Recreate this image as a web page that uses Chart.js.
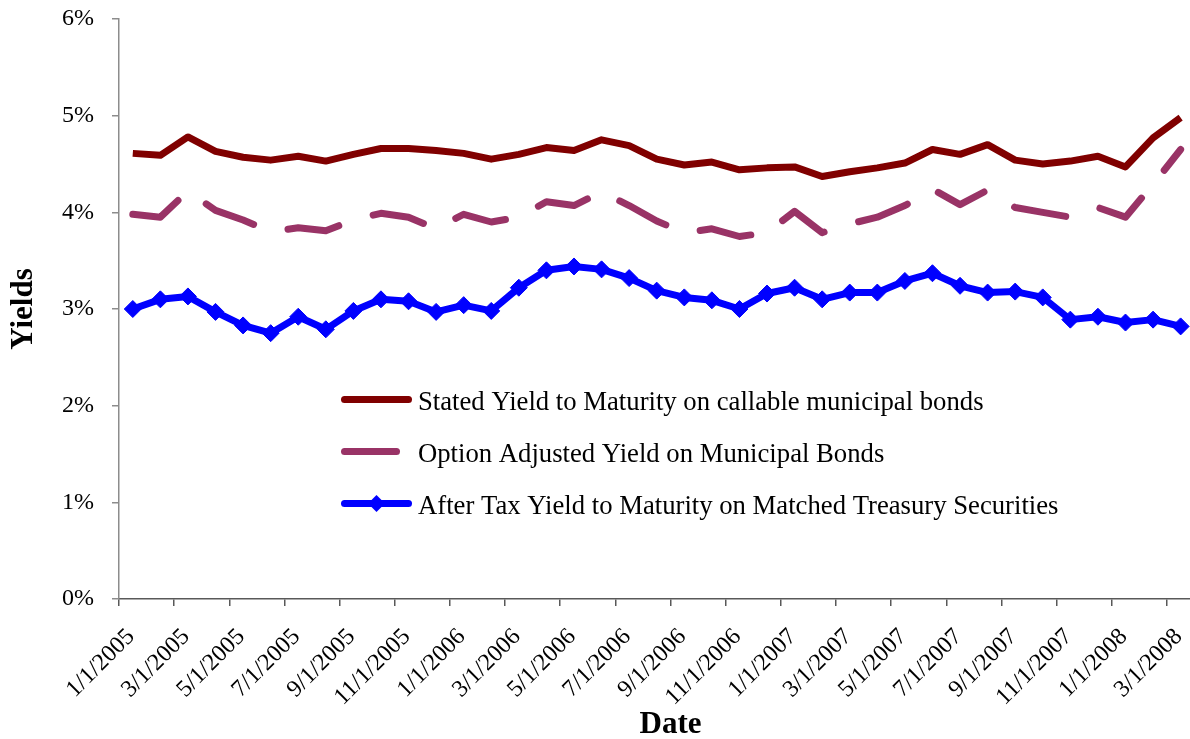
<!DOCTYPE html>
<html lang="en">
<head>
  <meta charset="UTF-8">
  <title>Municipal Bond Yields</title>
  <script src="https://cdn.jsdelivr.net/npm/chart.js"></script>
  <style>
    html, body {
      margin: 0;
      padding: 0;
      overflow: hidden;
      background: #fff;
    }
  </style>
</head>
<body>
  <canvas id="yieldChart" width="1222" height="739"></canvas>

  <script>
    // monthly observations, Jan 2005 - Mar 2008
    const months = [
      '1/1/2005', '2/1/2005', '3/1/2005', '4/1/2005', '5/1/2005', '6/1/2005',
      '7/1/2005', '8/1/2005', '9/1/2005', '10/1/2005', '11/1/2005', '12/1/2005',
      '1/1/2006', '2/1/2006', '3/1/2006', '4/1/2006', '5/1/2006', '6/1/2006',
      '7/1/2006', '8/1/2006', '9/1/2006', '10/1/2006', '11/1/2006', '12/1/2006',
      '1/1/2007', '2/1/2007', '3/1/2007', '4/1/2007', '5/1/2007', '6/1/2007',
      '7/1/2007', '8/1/2007', '9/1/2007', '10/1/2007', '11/1/2007', '12/1/2007',
      '1/1/2008', '2/1/2008', '3/1/2008'
    ];

    const tickLabels = [
      '1/1/2005', '3/1/2005', '5/1/2005', '7/1/2005', '9/1/2005', '11/1/2005',
      '1/1/2006', '3/1/2006', '5/1/2006', '7/1/2006', '9/1/2006', '11/1/2006',
      '1/1/2007', '3/1/2007', '5/1/2007', '7/1/2007', '9/1/2007', '11/1/2007',
      '1/1/2008', '3/1/2008'
    ];

    // yields in percent
    const statedYield = [
      4.61, 4.59, 4.78, 4.63, 4.57, 4.54, 4.58, 4.53, 4.60, 4.66, 4.66, 4.64,
      4.61, 4.55, 4.60, 4.67, 4.64, 4.75, 4.69, 4.55, 4.49, 4.52, 4.44, 4.46,
      4.47, 4.37, 4.42, 4.46, 4.51, 4.65, 4.60, 4.70, 4.54, 4.50, 4.53, 4.58,
      4.47, 4.77, 4.98
    ];

    const optionAdjustedYield = [
      3.98, 3.95, 4.22, 4.02, 3.92, 3.80, 3.84, 3.81, 3.92, 3.99, 3.95, 3.83,
      3.98, 3.90, 3.95, 4.11, 4.07, 4.21, 4.07, 3.91, 3.79, 3.83, 3.75, 3.79,
      4.01, 3.79, 3.88, 3.95, 4.07, 4.24, 4.08, 4.23, 4.05, 4.00, 3.95, 4.05,
      3.95, 4.29, 4.65
    ];

    const afterTaxTreasury = [
      3.00, 3.10, 3.13, 2.97, 2.83, 2.75, 2.92, 2.79, 2.98, 3.10, 3.08, 2.97,
      3.04, 2.98, 3.22, 3.40, 3.44, 3.41, 3.32, 3.19, 3.12, 3.09, 3.00, 3.16,
      3.22, 3.10, 3.17, 3.17, 3.29, 3.37, 3.24, 3.17, 3.18, 3.12, 2.89, 2.92,
      2.86, 2.89, 2.82
    ];

    const serif = "'Liberation Serif', 'Times New Roman', serif";

    const toPoints = arr => arr.map((v, i) => ({ x: i, y: v }));

    // legend drawn inside the plot area
    const insideLegend = {
      id: 'insideLegend',
      afterDatasetsDraw(chart, args, opts) {
        const ctx = chart.ctx;
        ctx.save();
        chart.data.datasets.forEach((ds, i) => {
          const y = opts.top + i * opts.rowGap;
          ctx.beginPath();
          ctx.lineWidth = ds.borderWidth;
          ctx.strokeStyle = ds.borderColor;
          ctx.lineCap = 'round';
          ctx.setLineDash(ds.borderDash || []);
          ctx.moveTo(opts.left, y);
          ctx.lineTo(opts.left + opts.lineLength, y);
          ctx.stroke();
          ctx.setLineDash([]);

          if (ds.pointRadius) {
            const cx = opts.left + opts.lineLength / 2;
            const r = ds.pointRadius;
            ctx.beginPath();
            ctx.moveTo(cx, y - r);
            ctx.lineTo(cx + r, y);
            ctx.lineTo(cx, y + r);
            ctx.lineTo(cx - r, y);
            ctx.closePath();
            ctx.fillStyle = ds.pointBackgroundColor;
            ctx.fill();
          }

          ctx.fillStyle = '#000';
          ctx.font = opts.font;
          ctx.textBaseline = 'alphabetic';
          ctx.fillText(ds.label, opts.textX, y + opts.baselineShift);
        });
        ctx.restore();
      }
    };

    new Chart(document.getElementById('yieldChart'), {
      type: 'line',
      data: {
        datasets: [{
          label: 'Stated Yield to Maturity on callable municipal bonds',
          data: toPoints(statedYield),
          borderColor: '#800000',
          backgroundColor: '#800000',
          borderWidth: 7,
          pointRadius: 0,
          borderJoinStyle: 'round',
          tension: 0
        }, {
          label: 'Option Adjusted Yield on Municipal Bonds',
          data: toPoints(optionAdjustedYield),
          borderColor: '#993366',
          backgroundColor: '#993366',
          borderWidth: 7,
          borderDash: [52, 36],
          borderCapStyle: 'round',
          borderJoinStyle: 'round',
          pointRadius: 0,
          tension: 0
        }, {
          label: 'After Tax Yield to Maturity on Matched Treasury Securities',
          data: toPoints(afterTaxTreasury),
          borderColor: '#0000ff',
          backgroundColor: '#0000ff',
          borderWidth: 7,
          borderJoinStyle: 'round',
          pointStyle: 'rectRot',
          pointRadius: 8.5,
          pointBackgroundColor: '#0000ff',
          pointBorderColor: '#0000ff',
          pointBorderWidth: 1,
          tension: 0
        }]
      },
      options: {
        responsive: false,
        animation: false,
        layout: {
          autoPadding: false,
          padding: { top: 19, right: 0, bottom: 0, left: 0 }
        },
        scales: {
          x: {
            type: 'linear',
            min: -0.5,
            max: 39.5,
            afterBuildTicks: scale => {
              scale.ticks = tickLabels.map((_, k) => ({ value: 2 * k - 0.5 }));
            },
            afterFit: scale => { scale.height = 140; },
            ticks: {
              autoSkip: false,
              minRotation: 45,
              maxRotation: 45,
              labelOffset: 12,
              padding: 17,
              color: '#000',
              font: { family: serif, size: 24 },
              callback: (value, index) => tickLabels[index]
            },
            grid: {
              drawOnChartArea: false,
              tickLength: 7,
              color: '#595959',
              lineWidth: 1.5
            },
            border: { color: '#595959', width: 1.5 },
            title: {
              display: true,
              text: 'Date',
              color: '#000',
              padding: { top: 0, bottom: -5 },
              font: { family: serif, size: 31, weight: 'bold' }
            }
          },
          y: {
            min: 0,
            max: 6,
            // fixed axis box; keep the top label overhang from pushing the plot down
            afterFit: scale => {
              scale.width = 119;
              scale.paddingTop = 14;
            },
            ticks: {
              stepSize: 1,
              padding: 18,
              color: '#000',
              font: { family: serif, size: 24 },
              callback: v => v + '%'
            },
            grid: {
              drawOnChartArea: false,
              tickLength: 7,
              color: '#8c8c8c',
              lineWidth: 1.5
            },
            border: { color: '#8c8c8c', width: 1.5 },
            title: {
              display: true,
              text: 'Yields',
              color: '#000',
              padding: { top: 5, bottom: 0 },
              font: { family: serif, size: 31, weight: 'bold' }
            }
          }
        },
        plugins: {
          legend: { display: false },
          tooltip: { enabled: false },
          insideLegend: {
            left: 344.5,
            lineLength: 64,
            textX: 418,
            top: 399.5,
            rowGap: 52,
            baselineShift: 10,
            font: '26.7px ' + serif
          }
        }
      },
      plugins: [insideLegend]
    });
  </script>
</body>
</html>
